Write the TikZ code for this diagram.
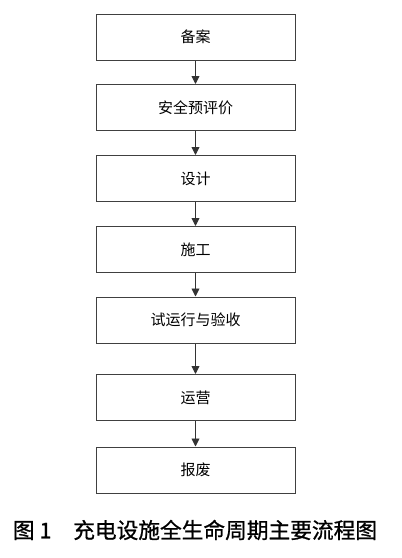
\documentclass[tikz,border=0pt]{standalone}
\usepackage{fontspec}
\newfontfamily\cjk{Noto Sans CJK SC}
\newfontfamily\cjkcap[FakeBold=0.8]{Noto Sans CJK SC}
\usetikzlibrary{arrows.meta}
\begin{document}
\begin{tikzpicture}[x=1pt, y=-1pt,
    stage/.style={draw=black!75, line width=1pt, minimum width=199pt, minimum height=46pt, inner sep=0pt, font=\cjk\fontsize{15}{15}\selectfont},
    flow/.style={draw=black!80, line width=0.9pt, -{Triangle[length=8pt, width=8pt]}}]
    \useasboundingbox (0,0) rectangle (402,558);
    \def\centerX{195.5}
    % stages of the life cycle, top to bottom
    \foreach \N/\Y/\T in {1/37/备案, 2/107.5/安全预评价, 3/178.5/设计, 4/249.5/施工, 5/320/试运行与验收, 6/397.5/运营, 7/470/报废}
        {
        \node[stage] (s\N) at (\centerX, \Y) {\T};
        }
    \foreach \A/\B in {1/2, 2/3, 3/4, 4/5, 5/6, 6/7}
        {
        \draw[flow] (s\A) -- (s\B);
        }
    \node[font=\cjkcap\fontsize{21.7}{22}\selectfont, inner sep=0pt] (caption) at (195, 530) {图~1\quad 充电设施全生命周期主要流程图};
\end{tikzpicture}
\end{document}
